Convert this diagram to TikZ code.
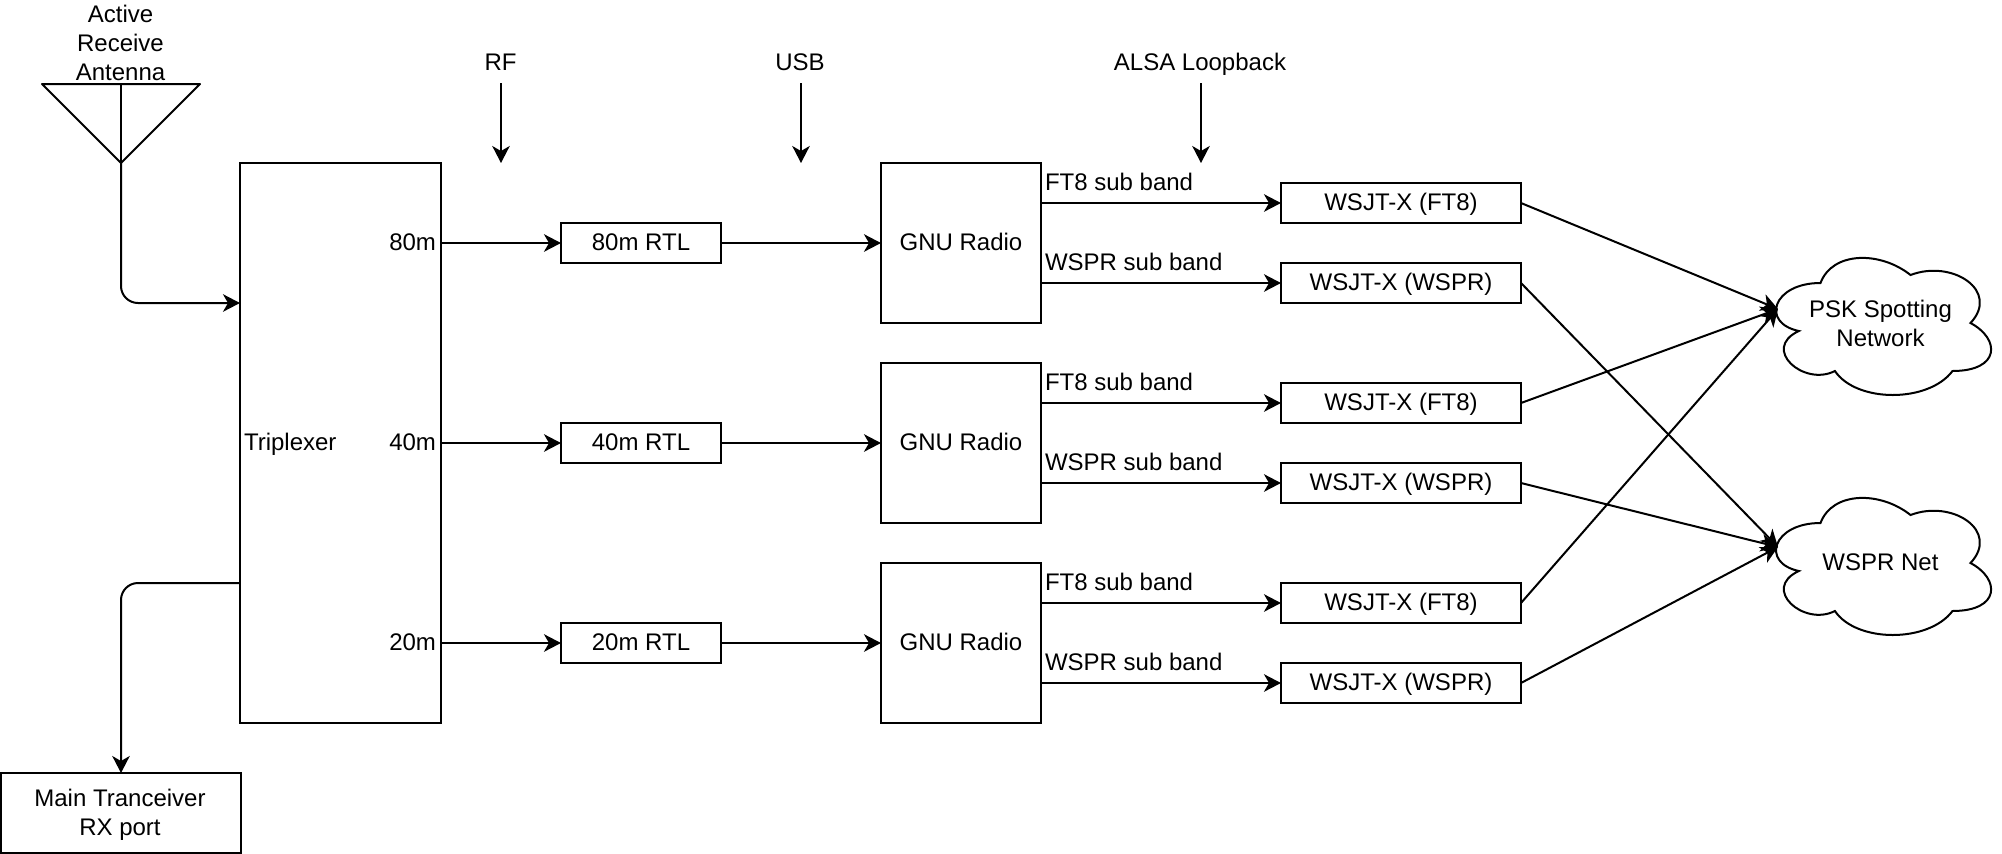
\documentclass[tikz,border=0pt]{standalone}
\usepackage{fontspec}
\setmainfont{Liberation Sans}
\usetikzlibrary{arrows.meta, calc, positioning}

\tikzset{
    line/.style={line width=0.02cm, draw=black},
    flow/.style={line, -{Stealth[length=0.17cm, width=0.175cm, inset=0.05cm]}},
    txt/.style={inner sep=0, outer sep=0, align=center, text height=0.2cm, text depth=0.05cm, font=\fontsize{6.83}{8.2}\selectfont},
    multi/.style={text height=, text depth=0cm},
    block/.style={txt, line, rectangle},
    rtl/.style={block, minimum width=1.6cm, minimum height=0.4cm},
    radio/.style={block, minimum width=1.6cm, minimum height=1.6cm},
    wsjt/.style={block, minimum width=2.4cm, minimum height=0.4cm},
    net/.style={txt, minimum width=2.4cm, minimum height=1.6cm},
}

% outline of a cloud, drawn on the box of the named node
\newcommand{\cloudline}[1]{
    \begin{scope}[shift=(#1.north west), x=2.4cm, y=-1.6cm]
        \draw[line] (0.25, 0.25) .. controls (0.05, 0.25) and (0, 0.5) .. (0.16, 0.55)
            .. controls (0, 0.66) and (0.18, 0.9) .. (0.31, 0.8)
            .. controls (0.4, 1) and (0.7, 1) .. (0.8, 0.8)
            .. controls (1, 0.8) and (1, 0.6) .. (0.875, 0.5)
            .. controls (1, 0.3) and (0.8, 0.1) .. (0.625, 0.2)
            .. controls (0.5, 0.05) and (0.3, 0.05) .. cycle;
    \end{scope}
}

\begin{document}
\begin{tikzpicture}
    \useasboundingbox (0, 0) rectangle (20.02, -8.54);

    % antenna and triplexer
    \coordinate (Al) at (0.42, -0.84);
    \coordinate (Ar) at (2.00, -0.84);
    \coordinate (At) at (1.21, -0.84);
    \coordinate (Ab) at (1.21, -1.63);
    \draw[line, line join=round] (Al) -- (Ar) -- (Ab) -- cycle;
    \draw[line] (At) -- (Ab);
    \node[txt, multi] (Alabel) at (1.205, -0.43) {Active\\Receive\\Antenna};

    \node[block, minimum width=2.01cm, minimum height=5.6cm] (Tri) at (3.405, -4.43) {};
    \node[txt, anchor=west] (Tlabel) at (2.44, -4.43) {Triplexer};
    \node[block, multi, minimum width=2.4cm, minimum height=0.8cm] (Main) at (1.21, -8.13) {};
    \node[txt, multi] (Mlabel) at (1.20, -8.125) {Main Tranceiver\\RX port};
    \coordinate (Tin) at (2.40, -3.03);
    \coordinate (Tout) at (2.40, -5.83);
    \draw[flow, rounded corners=0.17cm] (Ab) |- (Tin);
    \draw[flow, rounded corners=0.17cm] (Tout) -| (Main.north);

    % receivers
    \node[rtl] (Ra) at (6.41, -2.43) {80m RTL};
    \node[rtl, below=1.6 of Ra] (Rb) {40m RTL};
    \node[rtl, below=1.6 of Rb] (Rc) {20m RTL};
    \node[txt, anchor=east] (Pa) at (4.36, -2.43) {80m};
    \node[txt, anchor=east] (Pb) at (4.36, -4.43) {40m};
    \node[txt, anchor=east] (Pc) at (4.36, -6.43) {20m};
    \draw[flow] (Ra -| Tri.east) -- (Ra);
    \draw[flow] (Rb -| Tri.east) -- (Rb);
    \draw[flow] (Rc -| Tri.east) -- (Rc);

    \node[radio, right=1.6 of Ra] (Ga) {GNU Radio};
    \node[radio, right=1.6 of Rb] (Gb) {GNU Radio};
    \node[radio, right=1.6 of Rc] (Gc) {GNU Radio};
    \draw[flow] (Ra) -- (Ga);
    \draw[flow] (Rb) -- (Gb);
    \draw[flow] (Rc) -- (Gc);

    % decoders
    \node[wsjt] (Fa) at (14.01, -2.03) {WSJT-X (FT8)};
    \node[wsjt, below=0.4 of Fa] (Wa) {WSJT-X (WSPR)};
    \node[wsjt, below=0.8 of Wa] (Fb) {WSJT-X (FT8)};
    \node[wsjt, below=0.4 of Fb] (Wb) {WSJT-X (WSPR)};
    \node[wsjt, below=0.8 of Wb] (Fc) {WSJT-X (FT8)};
    \node[wsjt, below=0.4 of Fc] (Wc) {WSJT-X (WSPR)};
    \draw[flow] (Fa -| Ga.east) -- (Fa);
    \draw[flow] (Wa -| Ga.east) -- (Wa);
    \draw[flow] (Fb -| Gb.east) -- (Fb);
    \draw[flow] (Wb -| Gb.east) -- (Wb);
    \draw[flow] (Fc -| Gc.east) -- (Fc);
    \draw[flow] (Wc -| Gc.east) -- (Wc);
    \node[txt, anchor=west] (La) at (10.45, -1.83) {FT8 sub band};
    \node[txt, anchor=west] (Lb) at (10.45, -2.63) {WSPR sub band};
    \node[txt, anchor=west] (Lc) at (10.45, -3.83) {FT8 sub band};
    \node[txt, anchor=west] (Ld) at (10.45, -4.63) {WSPR sub band};
    \node[txt, anchor=west] (Le) at (10.45, -5.83) {FT8 sub band};
    \node[txt, anchor=west] (Lf) at (10.45, -6.63) {WSPR sub band};

    % link captions
    \node[txt] (Crf) at (5.005, -0.63) {RF};
    \node[txt] (Cusb) at (8.00, -0.63) {USB};
    \node[txt] (Calsa) at (12.00, -0.63) {ALSA Loopback};
    \coordinate (Crfa) at (5.01, -0.83);
    \coordinate (Crfb) at (5.01, -1.63);
    \coordinate (Cusba) at (8.01, -0.83);
    \coordinate (Cusbb) at (8.01, -1.63);
    \coordinate (Calsaa) at (12.01, -0.83);
    \coordinate (Calsab) at (12.01, -1.63);
    \draw[flow] (Crfa) -- (Crfb);
    \draw[flow] (Cusba) -- (Cusbb);
    \draw[flow] (Calsaa) -- (Calsab);

    % networks
    \node[txt, multi, minimum width=2.4cm, minimum height=1.6cm] (Psk) at (18.805, -3.23) {PSK Spotting\\Network};
    \node[net] (Wnet) at (18.805, -5.63) {WSPR Net};
    \cloudline{Psk}
    \cloudline{Wnet}
    \coordinate (Pin) at (17.78, -3.09);
    \coordinate (Win) at (17.78, -5.47);
    \draw[flow] (Fa.east) -- (Pin);
    \draw[flow] (Fb.east) -- (Pin);
    \draw[flow] (Fc.east) -- (Pin);
    \draw[flow] (Wa.east) -- (Win);
    \draw[flow] (Wb.east) -- (Win);
    \draw[flow] (Wc.east) -- (Win);
\end{tikzpicture}
\end{document}
